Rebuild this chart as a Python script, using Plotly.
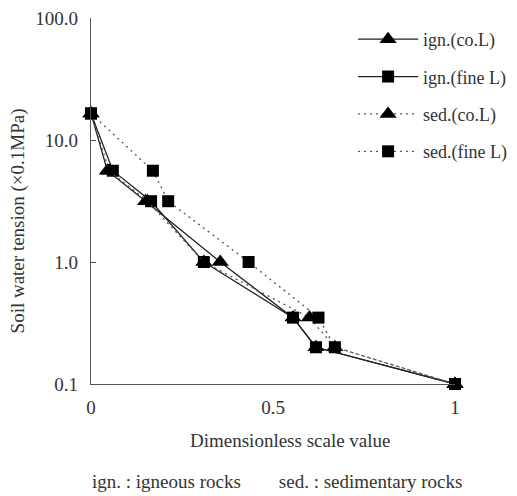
import plotly.graph_objects as go

tension = [16.5, 5.6, 3.15, 1.0, 0.35, 0.2, 0.1]
ign_co_x = [0.0, 0.045, 0.15, 0.355, 0.555, 0.618, 1.0]
ign_fine_x = [0.0, 0.06, 0.165, 0.31, 0.555, 0.618, 1.0]
sed_co_x = [0.0, 0.05, 0.155, 0.31, 0.60, 0.67, 1.0]
sed_fine_x = [0.0, 0.17, 0.212, 0.433, 0.625, 0.67, 1.0]

series = [
    ("ign.(co.L)", ign_co_x, "triangle-up", "solid"),
    ("ign.(fine L)", ign_fine_x, "square", "solid"),
    ("sed.(co.L)", sed_co_x, "triangle-up", "2px,4px"),
    ("sed.(fine L)", sed_fine_x, "square", "2px,4px"),
]

FONT = "Liberation Serif"
fig = go.Figure()
for i, (name, xs, sym, dash) in enumerate(series):
    fig.add_trace(go.Scatter(
        x=xs, y=tension, name=name, mode="lines+markers",
        legendgroup=f"g{i}",
        line=dict(color="#222" if dash == "solid" else "#555", width=1.3, dash=dash),
        marker=dict(symbol=sym, color="black", size=15 if sym == "triangle-up" else 12,
                    line=dict(width=0)),
        cliponaxis=False,
    ))

# page body has an 8px margin, so the figure is 8px smaller and offset
fig.update_layout(
    width=509, height=488,
    margin=dict(l=83, r=62, t=0, b=112),
    plot_bgcolor="white", paper_bgcolor="white",
    font=dict(family=FONT, size=19, color="#333"),
    showlegend=True,
    legend=dict(x=0.72, y=0.992, xanchor="left", yanchor="top",
                bgcolor="rgba(0,0,0,0)", tracegroupgap=11,
                font=dict(family=FONT, size=18, color="#333"),
                itemwidth=60),
    xaxis=dict(range=[0, 1], tickvals=[0, 0.5, 1], ticktext=["0", "0.5", "1"],
               showgrid=False, zeroline=False, showline=True, linecolor="#555",
               linewidth=1.2, ticks="", ticklabelstandoff=6, tickfont=dict(size=19)),
    yaxis=dict(type="log", range=[-1, 2.0], tickvals=[0.1, 1, 10, 100],
               ticktext=["0.1", "1.0", "10.0", "100.0"],
               showgrid=False, zeroline=False, showline=True, linecolor="#555",
               linewidth=1.2, ticks="inside", ticklen=5, tickcolor="#555",
               ticklabelstandoff=8, ticklabeloverflow="allow", tickfont=dict(size=19)),
)

fig.add_annotation(text="Dimensionless scale value", xref="paper", yref="paper",
                   x=(290 - 91) / 364, y=-(442 - 384) / 376, showarrow=False,
                   font=dict(size=19), xanchor="center", yanchor="middle")
fig.add_annotation(text="Soil water tension (×0.1MPa)", xref="paper", yref="paper",
                   x=-(91 - 18) / 364, y=(384 - 217) / 376, showarrow=False, textangle=-90,
                   font=dict(size=19), xanchor="center", yanchor="middle")
fig.add_annotation(text="ign. : igneous rocks&#160;&#160;&#160;&#160;&#160;&#160;&#160;&#160;sed. : sedimentary rocks",
                   xref="paper", yref="paper",
                   x=(277 - 91) / 364, y=-(484 - 384) / 376, showarrow=False,
                   font=dict(size=19), xanchor="center", yanchor="middle")

fig.write_html("out.html")
